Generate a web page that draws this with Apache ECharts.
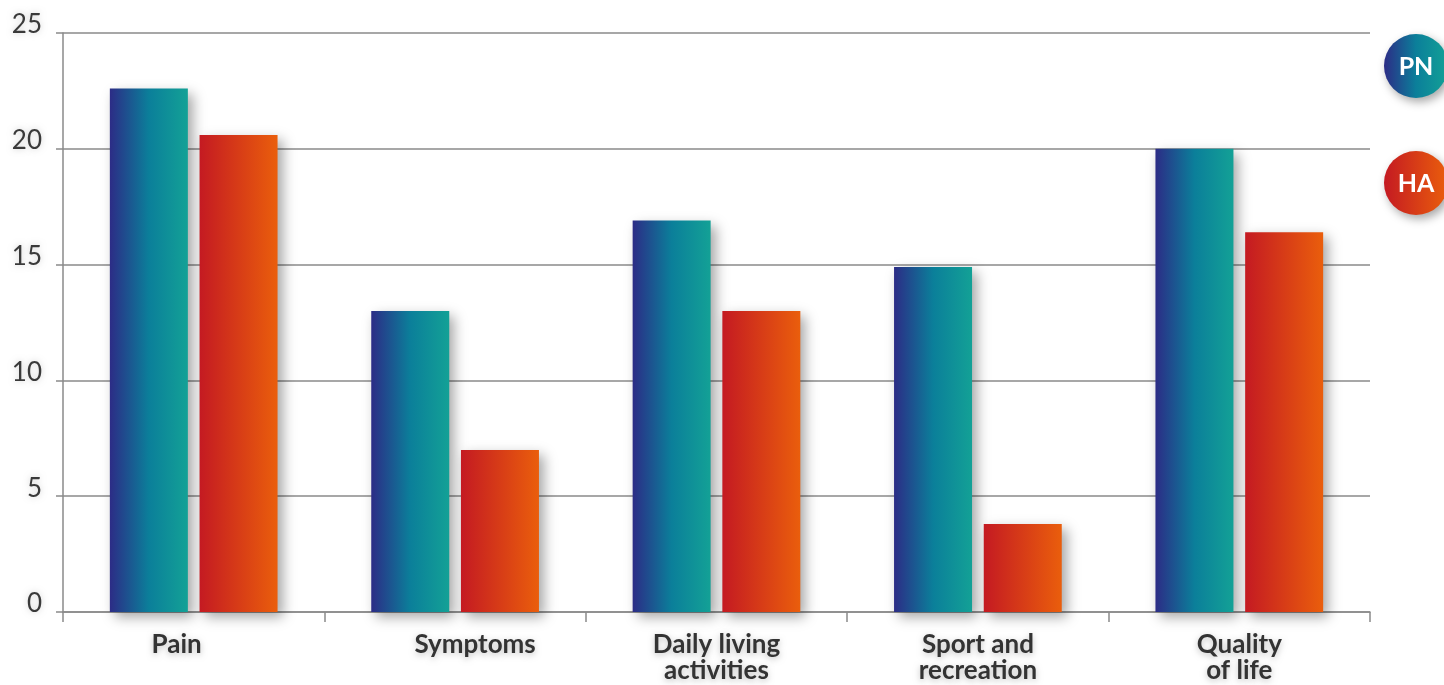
<!DOCTYPE html>
<html>
<head>
<meta charset="utf-8">
<title>PN vs HA</title>
<script src="https://cdn.jsdelivr.net/npm/echarts@6/dist/echarts.min.js"></script>
<style>
  html, body { margin: 0; padding: 0; background: #fff; }
  #chart { width: 1444px; height: 685px; }
</style>
</head>
<body>
<div id="chart"></div>
<script>
// Chart data
const categories = ['Pain', 'Symptoms', 'Daily living\nactivities', 'Sport and\nrecreation', 'Quality\nof life'];
const pnValues = [22.6, 13.0, 16.9, 14.9, 20.0];
const haValues = [20.6, 7.0, 13.0, 3.8, 16.4];
const yTicks = [0, 5, 10, 15, 20, 25];

const pnGradient = {
  type: 'linear', x: 0, y: 0, x2: 1, y2: 0,
  colorStops: [
    { offset: 0, color: '#2c2c86' },
    { offset: 0.5, color: '#0b7f9a' },
    { offset: 1, color: '#13a196' }
  ]
};
const haGradient = {
  type: 'linear', x: 0, y: 0, x2: 1, y2: 0,
  colorStops: [
    { offset: 0, color: '#c41a22' },
    { offset: 1, color: '#ea5e0c' }
  ]
};

const barShadow = {
  shadowBlur: 12,
  shadowColor: 'rgba(0,0,0,0.35)',
  shadowOffsetX: 5,
  shadowOffsetY: 5
};

// the first two labels sit a bit off-centre in the original
const labelStyles = ['left', 'right', 'c', 'c', 'c'];

const chart = echarts.init(document.getElementById('chart'), null, { renderer: 'canvas' });

function legendBadge(cy, text, fill) {
  return {
    type: 'group',
    left: 1384,
    top: cy - 32,
    children: [
      {
        type: 'circle',
        shape: { cx: 32, cy: 32, r: 32 },
        style: { fill, shadowBlur: 10, shadowColor: 'rgba(0,0,0,0.35)', shadowOffsetX: 3, shadowOffsetY: 4 }
      },
      {
        type: 'text',
        x: 32, y: 33,
        style: {
          text, fill: '#fff', font: 'bold 25px Lato, "Open Sans", sans-serif',
          align: 'center', verticalAlign: 'middle'
        }
      }
    ]
  };
}

chart.setOption({
  animation: false,
  grid: { left: 63, right: 74, top: 33, bottom: 73, containLabel: false },
  xAxis: {
    type: 'category',
    data: categories,
    axisLine: { lineStyle: { color: '#8a8a8a', width: 1.5 } },
    axisTick: { show: true, length: 10, lineStyle: { color: '#8a8a8a', width: 1.5 } },
    axisLabel: {
      color: '#333',
      fontSize: 26,
      fontWeight: 'bold',
      fontFamily: 'Lato, "Open Sans", sans-serif',
      lineHeight: 26,
      margin: 20,
      textShadowColor: 'rgba(0,0,0,0.25)',
      textShadowBlur: 6,
      textShadowOffsetY: 2,
      formatter: (v, i) => labelStyles[i] === 'c' ? v : `{${labelStyles[i]}|${v}}`,
      rich: {
        left: { padding: [0, 34, 0, 0] },
        right: { padding: [0, 0, 0, 40] }
      }
    }
  },
  yAxis: {
    type: 'value',
    min: yTicks[0],
    max: yTicks[yTicks.length - 1],
    interval: 5,
    axisLine: { show: true, lineStyle: { color: '#8a8a8a', width: 1.5 } },
    axisTick: { show: true, length: 7, lineStyle: { color: '#8a8a8a', width: 1.5 } },
    axisLabel: {
      color: '#3a3a3a',
      fontSize: 26,
      lineHeight: 16,
      fontFamily: 'Lato, "Open Sans", sans-serif',
      margin: 21,
      verticalAlign: 'bottom',
      textShadowColor: 'rgba(0,0,0,0.2)',
      textShadowBlur: 6
    },
    splitLine: { lineStyle: { color: '#8a8a8a', width: 1.5 } }
  },
  series: [
    {
      name: 'PN',
      type: 'bar',
      data: pnValues,
      barWidth: 78,
      barGap: '15%',
      itemStyle: Object.assign({ color: pnGradient }, barShadow)
    },
    {
      name: 'HA',
      type: 'bar',
      data: haValues,
      barWidth: 78,
      barGap: '15%',
      itemStyle: Object.assign({ color: haGradient }, barShadow)
    }
  ],
  graphic: [
    legendBadge(66, 'PN', pnGradient),
    legendBadge(183, 'HA', haGradient)
  ]
});

window.addEventListener('resize', () => chart.resize());
</script>
</body>
</html>
